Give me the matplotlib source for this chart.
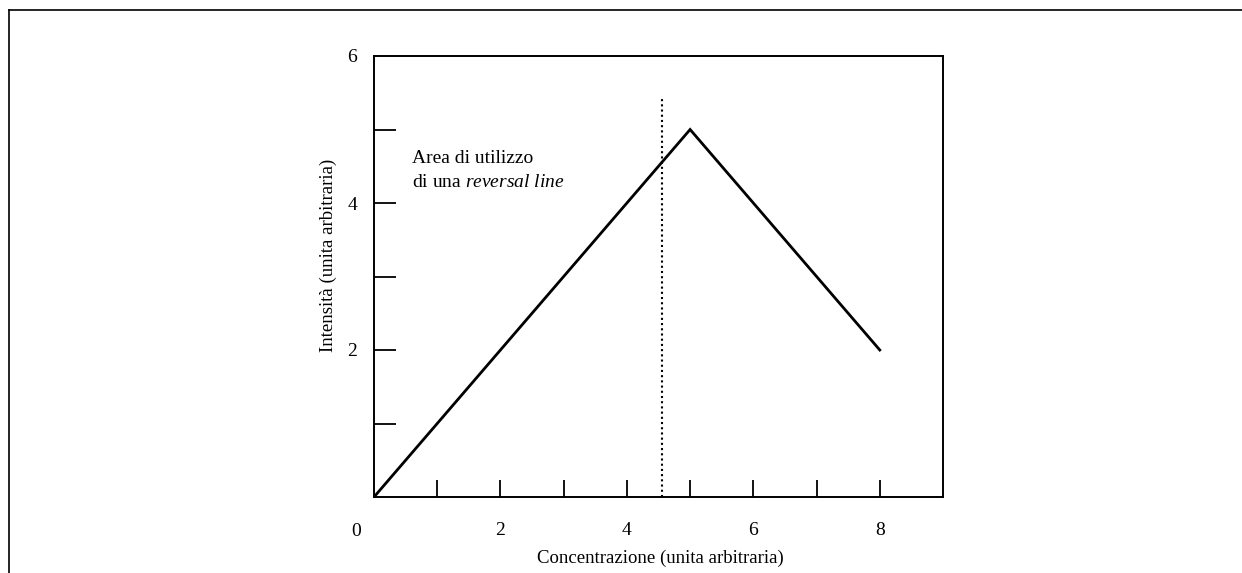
import matplotlib
matplotlib.use("Agg")
import matplotlib.pyplot as plt
from matplotlib.lines import Line2D

plt.rcParams['font.family'] = ['Liberation Serif', 'DejaVu Serif']
plt.rcParams['mathtext.fontset'] = 'custom'
plt.rcParams['mathtext.rm'] = 'Liberation Serif'
plt.rcParams['mathtext.it'] = 'Liberation Serif:italic'

# Data
conc = [0, 5, 8]
intens = [0, 5, 2]
reversal_x = 4.55
reversal_top = 5.45
xticks_major = [2, 4, 6, 8]
xticks_all = [1, 2, 3, 4, 5, 6, 7, 8]
yticks_major = [2, 4, 6]
yticks_all = [1, 2, 3, 4, 5]
xlabel = "Concentrazione (unita arbitraria)"
ylabel = "Intensità (unita arbitraria)"

W, H = 1242, 573
fig = plt.figure(figsize=(W/100, H/100), dpi=100)
L, R, B, T = 374, 943, 497, 56
ax = fig.add_axes([L/W, 1-B/H, (R-L)/W, (B-T)/H])

ax.plot(conc, intens, color='black', lw=2.0, solid_joinstyle='miter')
ax.plot([reversal_x, reversal_x], [0, reversal_top], color='black', lw=1.5, ls=(0, (1, 1.5)))

ax.set_xlim(0, 9)
ax.set_ylim(0, 6)

for s in ax.spines.values():
    s.set_linewidth(1.4)

ax.set_xticks(xticks_all)
ax.set_xticklabels([str(v) if v in xticks_major else '' for v in xticks_all])
ax.set_yticks(yticks_all + [6])
ax.set_yticklabels([str(v) if v in yticks_major else '' for v in yticks_all + [6]])
ax.tick_params(axis='x', direction='in', length=12.5, width=1.3, pad=18, labelsize=14)
ax.tick_params(axis='y', direction='in', length=16, width=1.3, pad=12, labelsize=14)
ax.yaxis.get_major_ticks()[-1].tick1line.set_visible(False)

ax.text((356-L)/(R-L), -(531-B)/(B-T), "0", transform=ax.transAxes, ha='center', va='center', fontsize=14)

ax.set_xlabel(xlabel, fontsize=13.5)
ax.xaxis.set_label_coords((660-L)/(R-L), -(550-B)/(B-T))
ax.set_ylabel(ylabel, fontsize=13.5)
ax.yaxis.set_label_coords(-(L-337)/(R-L), (B-255)/(B-T))

ax.text(0.6, 4.6, "Area di utilizzo", fontsize=14, ha='left', va='center')
ax.text(0.6, 4.28, "di una $\\mathit{reversal\\ line}$", fontsize=14, ha='left', va='center')

# Outer frame (top and left)
fig.add_artist(Line2D([9/W, 1], [1-10/H, 1-10/H], transform=fig.transFigure, color='black', lw=1.2))
fig.add_artist(Line2D([9/W, 9/W], [0, 1-10/H], transform=fig.transFigure, color='black', lw=1.2))

fig.savefig("out.png", dpi=100)
